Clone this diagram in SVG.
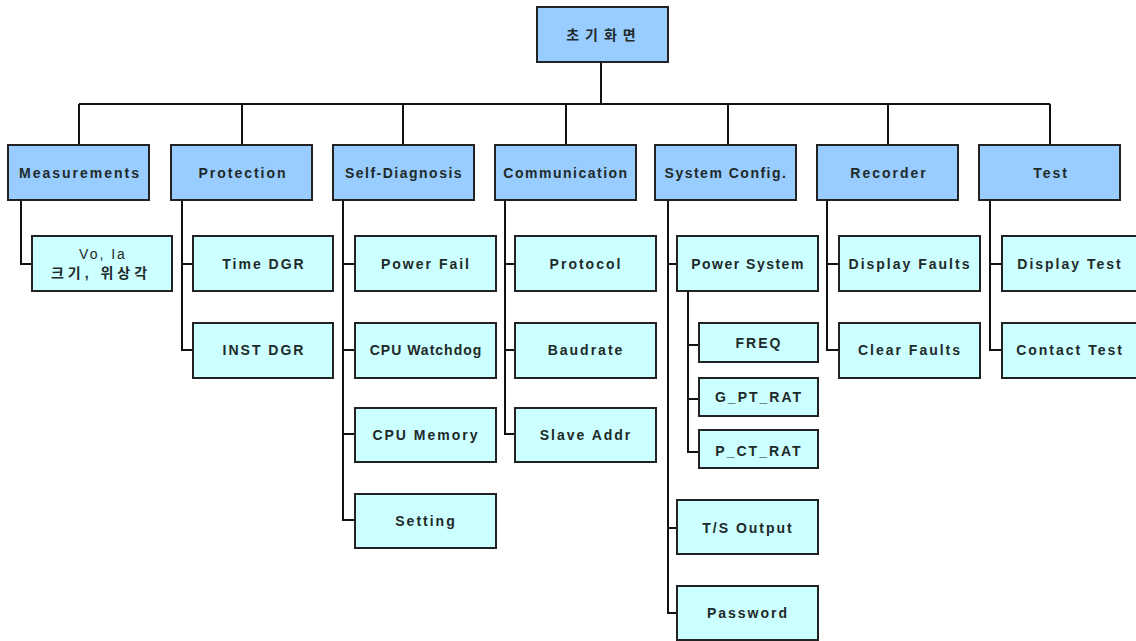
<svg xmlns="http://www.w3.org/2000/svg" width="1136" height="641" viewBox="0 0 1136 641">
<style>
.l1{fill:#99ccff;stroke:#222;stroke-width:2}
.l2{fill:#ccffff;stroke:#222;stroke-width:2}
.t{font-family:"Liberation Sans","Noto Sans CJK KR",sans-serif;font-size:14px;font-weight:bold;fill:#1e2a2a;text-anchor:middle;dominant-baseline:central;letter-spacing:2px}
.c{fill:none;stroke:#111;stroke-width:2}
</style>
<rect width="1136" height="641" fill="#fff"/>
<g id="connectors" class="c">
<path d="M601 62V104M79 104H1050M79 104V145M242 104V145M403 104V145M566 104V145M728 104V145M888 104V145M1050 104V145"/>
<path d="M21 200V264H32"/>
<path d="M182 200V350H193M182 264H193"/>
<path d="M343 200V520H355M343 264H355M343 350H355M343 434H355"/>
<path d="M505 200V434H515M505 264H515M505 350H515"/>
<path d="M668 200V613H677M668 264H677M668 528H677"/>
<path d="M688 290V452H699M688 345H699M688 399H699"/>
<path d="M827 200V350H839M827 264H839"/>
<path d="M990 200V350H1002M990 264H1002"/>
</g>
<g id="root"><rect class="l1" x="537" y="7" width="131" height="55"/><text class="t" x="604" y="35" style="letter-spacing:6px">초기화면</text></g>
<g id="measurements"><rect class="l1" x="8" y="145" width="141" height="55"/><text class="t" x="80" y="173">Measurements</text></g>
<g id="protection"><rect class="l1" x="171" y="145" width="141" height="55"/><text class="t" x="243" y="173">Protection</text></g>
<g id="self-diagnosis"><rect class="l1" x="333" y="145" width="141" height="55"/><text class="t" x="404" y="173" style="letter-spacing:1.5px">Self-Diagnosis</text></g>
<g id="communication"><rect class="l1" x="495" y="145" width="141" height="55"/><text class="t" x="566" y="173" style="letter-spacing:1.5px">Communication</text></g>
<g id="system-config"><rect class="l1" x="655" y="145" width="141" height="55"/><text class="t" x="726" y="173" style="letter-spacing:1.5px">System Config.</text></g>
<g id="recorder"><rect class="l1" x="817" y="145" width="141" height="55"/><text class="t" x="889" y="173">Recorder</text></g>
<g id="test"><rect class="l1" x="979" y="145" width="141" height="55"/><text class="t" x="1051" y="173">Test</text></g>
<g id="vo-ia"><rect class="l2" x="32" y="236" width="140" height="55"/><text class="t" x="103" y="254" style="font-weight:normal">Vo, Ia</text><text class="t" x="101" y="273" style="letter-spacing:4px">크기, 위상각</text></g>
<g id="time-dgr"><rect class="l2" x="193" y="236" width="140" height="55"/><text class="t" x="264" y="264">Time DGR</text></g>
<g id="inst-dgr"><rect class="l2" x="193" y="323" width="140" height="55"/><text class="t" x="264" y="350">INST DGR</text></g>
<g id="power-fail"><rect class="l2" x="355" y="236" width="141" height="55"/><text class="t" x="426" y="264">Power Fail</text></g>
<g id="cpu-watchdog"><rect class="l2" x="355" y="323" width="141" height="55"/><text class="t" x="426" y="350" style="letter-spacing:1px">CPU Watchdog</text></g>
<g id="cpu-memory"><rect class="l2" x="355" y="408" width="141" height="54"/><text class="t" x="426" y="435">CPU Memory</text></g>
<g id="setting"><rect class="l2" x="355" y="494" width="141" height="54"/><text class="t" x="426" y="521">Setting</text></g>
<g id="protocol"><rect class="l2" x="515" y="236" width="141" height="55"/><text class="t" x="586" y="264">Protocol</text></g>
<g id="baudrate"><rect class="l2" x="515" y="323" width="141" height="55"/><text class="t" x="586" y="350">Baudrate</text></g>
<g id="slave-addr"><rect class="l2" x="515" y="408" width="141" height="54"/><text class="t" x="586" y="435">Slave Addr</text></g>
<g id="power-system"><rect class="l2" x="677" y="236" width="141" height="55"/><text class="t" x="748" y="264" style="letter-spacing:1.5px">Power System</text></g>
<g id="freq"><rect class="l2" x="699" y="323" width="119" height="39"/><text class="t" x="759" y="343">FREQ</text></g>
<g id="g-pt-rat"><rect class="l2" x="699" y="378" width="119" height="38"/><text class="t" x="759" y="397">G_PT_RAT</text></g>
<g id="p-ct-rat"><rect class="l2" x="699" y="430" width="119" height="38"/><text class="t" x="759" y="451">P_CT_RAT</text></g>
<g id="ts-output"><rect class="l2" x="677" y="500" width="141" height="54"/><text class="t" x="748" y="528">T/S Output</text></g>
<g id="password"><rect class="l2" x="677" y="586" width="141" height="54"/><text class="t" x="748" y="613">Password</text></g>
<g id="display-faults"><rect class="l2" x="839" y="236" width="141" height="55"/><text class="t" x="910" y="264">Display Faults</text></g>
<g id="clear-faults"><rect class="l2" x="839" y="323" width="141" height="55"/><text class="t" x="910" y="350">Clear Faults</text></g>
<g id="display-test"><rect class="l2" x="1002" y="236" width="141" height="55"/><text class="t" x="1070" y="264">Display Test</text></g>
<g id="contact-test"><rect class="l2" x="1002" y="323" width="141" height="55"/><text class="t" x="1070" y="350">Contact Test</text></g>
</svg>
